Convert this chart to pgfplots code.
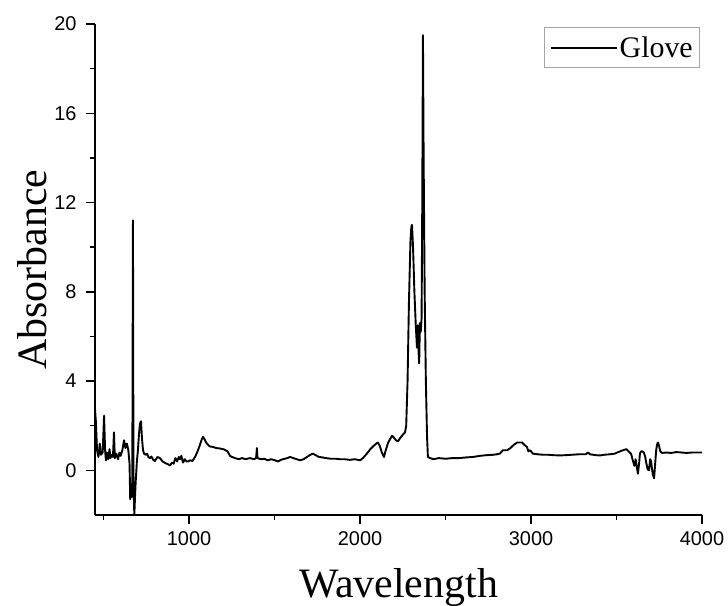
\documentclass[border=0pt]{standalone}
\usepackage{pgfplots}
\pgfplotsset{compat=1.18}
\usepackage{fontspec}
\setmainfont{Liberation Serif}
\newfontfamily\arialfont{Liberation Sans}
\begin{document}
\begin{tikzpicture}
\path[use as bounding box] (-95bp,-91bp) rectangle (633bp,515bp);
\begin{axis}[
  scale only axis,
  width=607bp, height=491bp,
  xmin=450, xmax=4000, ymin=-2, ymax=20,
  axis x line*=bottom, axis y line*=left,
  axis line style={line width=1.4bp},
  xtick={1000,2000,3000,4000},
  minor xtick={500,1500,2500,3500},
  ytick={0,4,8,12,16,20},
  minor ytick={2,6,10,14,18},
  tick align=outside,
  major tick length=9bp, minor tick length=5bp,
  every tick/.style={line width=1.4bp, black},
  tick label style={font=\arialfont\fontsize{20}{20}\selectfont},
  x tick label style={yshift=-4bp},
  y tick label style={xshift=-6bp},
  /pgf/number format/assume math mode=true,
  /pgf/number format/set thousands separator={},
  every axis x label/.style={at={(axis description cs:0.5,0)}, yshift=-82bp, anchor=base},
  every axis y label/.style={at={(axis description cs:0,0.5)}, xshift=-48bp, rotate=90, anchor=base},
  label style={font=\fontsize{42}{42}\selectfont},
  xlabel={Wavelength}, ylabel={Absorbance},
  clip=true,
  legend style={at={(axis description cs:0.997,0.994)}, anchor=north east,
    draw=gray!70, line width=0.9bp, font=\fontsize{30}{30}\selectfont,
    inner xsep=5bp, inner ysep=7bp},
  legend cell align=left,
  legend image code/.code={\draw[#1,line width=2bp] (0bp,0bp) -- (66bp,0bp);},
]
\addplot[black, line width=1.9bp, line join=round] coordinates {
(450,2.75)(455,2.2)(462,0.9)(470,0.6)(478,1.2)(485,0.7)(495,0.8)(503,2.45)(509,0.9)(514,0.45)
(520,0.8)(527,0.5)(535,0.95)(540,0.55)(548,0.7)(555,0.6)(561,1.7)(566,0.55)(575,0.75)(585,0.5)
(593,0.8)(600,0.65)(610,0.9)(620,1.35)(628,1.0)(637,1.2)(645,0.9)(652,0.3)(656,-1.3)(660,-0.6)
(664,-1.2)(668,-1.0)(672,11.2)(675,-0.5)(680,-2.0)(684,-1.2)(688,-0.5)(695,0.4)(701,0.9)(707,1.6)
(713,2.1)(719,2.2)(725,1.4)(731,0.9)(737,0.75)(745,0.7)(755,0.75)(762,0.6)(772,0.55)(780,0.62)
(790,0.48)(800,0.42)(815,0.6)(830,0.55)(845,0.4)(860,0.33)(875,0.28)(889,0.22)(900,0.35)(910,0.3)
(920,0.55)(930,0.4)(940,0.6)(947,0.5)(955,0.65)(965,0.35)(975,0.5)(985,0.4)(995,0.4)(1006,0.45)
(1020,0.42)(1035,0.6)(1050,0.85)(1064,1.15)(1075,1.4)(1082,1.5)(1090,1.4)(1100,1.25)(1110,1.15)(1122,1.07)
(1140,1.05)(1160,1.0)(1180,0.98)(1200,0.95)(1210,0.92)(1225,0.85)(1240,0.65)(1251,0.6)(1270,0.55)(1290,0.5)
(1310,0.55)(1330,0.5)(1356,0.55)(1380,0.5)(1392,0.55)(1397,1.0)(1400,0.55)(1420,0.5)(1440,0.52)(1460,0.45)
(1480,0.5)(1503,0.45)(1520,0.4)(1540,0.48)(1560,0.52)(1575,0.55)(1590,0.6)(1610,0.55)(1630,0.5)(1649,0.45)
(1670,0.5)(1690,0.6)(1710,0.7)(1725,0.75)(1740,0.68)(1760,0.6)(1780,0.58)(1800,0.55)(1830,0.52)(1860,0.52)
(1883,0.5)(1910,0.5)(1940,0.47)(1970,0.5)(2000,0.45)(2017,0.55)(2040,0.75)(2060,0.95)(2080,1.1)(2095,1.2)
(2105,1.25)(2115,1.1)(2128,0.8)(2140,0.6)(2150,0.9)(2165,1.25)(2187,1.55)(2200,1.45)(2210,1.35)(2222,1.3)
(2235,1.45)(2250,1.6)(2263,1.7)(2270,2.0)(2278,4.0)(2286,7.5)(2295,10.3)(2300,10.9)(2304,11.0)(2310,10.0)
(2318,8.0)(2326,6.5)(2333,5.5)(2338,6.5)(2343,5.2)(2346,4.8)(2350,6.6)(2355,6.2)(2360,6.8)(2364,12.0)
(2368,19.5)(2372,14.0)(2378,8.0)(2385,4.0)(2392,1.5)(2397,0.6)(2410,0.55)(2430,0.5)(2460,0.55)(2500,0.52)
(2540,0.55)(2580,0.55)(2620,0.58)(2660,0.6)(2700,0.65)(2740,0.68)(2780,0.7)(2800,0.72)(2818,0.75)(2835,0.9)
(2860,0.9)(2880,1.0)(2900,1.15)(2920,1.25)(2947,1.25)(2960,1.15)(2976,1.05)(2985,0.85)(2995,0.9)(3011,0.75)
(3040,0.72)(3070,0.7)(3100,0.7)(3130,0.68)(3169,0.67)(3200,0.68)(3240,0.7)(3280,0.72)(3320,0.72)(3333,0.8)
(3345,0.72)(3380,0.68)(3403,0.67)(3430,0.7)(3460,0.72)(3490,0.75)(3520,0.85)(3545,0.92)(3558,0.95)(3570,0.85)
(3585,0.75)(3597,0.4)(3605,0.2)(3612,0.5)(3620,0.1)(3625,-0.15)(3632,0.3)(3637,0.75)(3644,0.85)(3652,0.85)
(3660,0.8)(3668,0.6)(3675,0.3)(3682,0.05)(3690,0.0)(3697,0.5)(3702,0.4)(3707,0.1)(3713,-0.2)(3720,-0.35)
(3725,0.2)(3732,0.9)(3737,1.15)(3742,1.25)(3749,1.1)(3756,0.85)(3766,0.78)(3790,0.8)(3820,0.78)(3850,0.82)
(3880,0.8)(3910,0.78)(3940,0.8)(3970,0.8)(4000,0.8)
};
\addlegendentry{Glove}
\end{axis}
\end{tikzpicture}
\end{document}
